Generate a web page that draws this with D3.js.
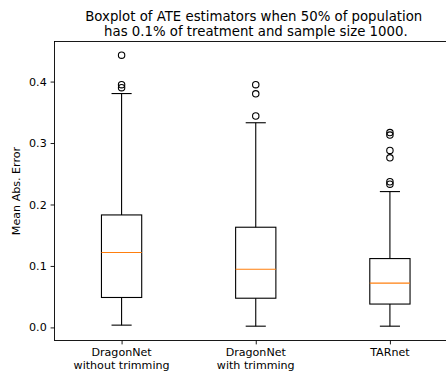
<!DOCTYPE html>
<html><head><meta charset="utf-8">
<script src="https://cdn.jsdelivr.net/npm/d3@7"></script>
<style>body{margin:0;background:#fff;} text{font-family:"DejaVu Sans",sans-serif;fill:#000;}</style>
</head><body><svg id="c" width="446" height="373"></svg>
<script>
const categories = ["DragonNet\nwithout trimming", "DragonNet\nwith trimming", "TARnet"];
const q1 = [0.0487, 0.0475, 0.038];
const medians = [0.122, 0.0946, 0.072];
const q3 = [0.183, 0.163, 0.112];
const whiskerLow = [0.0037, 0.002, 0.002];
const whiskerHigh = [0.3805, 0.333, 0.221];
const outliers = [[0.443, 0.395, 0.390], [0.395, 0.380, 0.344], [0.317, 0.313, 0.288, 0.276, 0.237, 0.233]];
const yTicks = [0.0, 0.1, 0.2, 0.3, 0.4];
const titleLines = ["Boxplot of ATE estimators when 50% of population", " has 0.1% of treatment and sample size 1000."];

const svg = d3.select("#c");
const L = 54.5, R = 457, T = 41.5, B = 340.5;
const fs = 11.1, tfs = 13.3;
const x = d3.scaleLinear().domain([0.5, 3.5]).range([L, R]);
const y = d3.scaleLinear().domain([-0.0213, 0.4652]).range([B, T]);
const bw = 0.3, cw = 0.15;

// axes
const ya = svg.append("g").attr("transform", `translate(${L},0)`)
  .call(d3.axisLeft(y).tickValues(yTicks).tickFormat(d3.format(".1f")).tickSizeOuter(0).tickSize(3.9).tickPadding(3.9));
ya.select(".domain").remove();
ya.selectAll("text").style("font-size", fs + "px").style("font-family", "DejaVu Sans").attr("fill", "#000");
ya.selectAll("line").attr("stroke", "#000").attr("stroke-width", 0.9);

const xa = svg.append("g").attr("transform", `translate(0,${B})`)
  .call(d3.axisBottom(x).tickValues([1, 2, 3]).tickFormat("").tickSizeOuter(0).tickSize(3.9));
xa.select(".domain").remove();
xa.selectAll("line").attr("stroke", "#000").attr("stroke-width", 0.9);

categories.forEach((c, i) => {
  const lines = c.split("\n");
  const t = svg.append("text").attr("x", x(i + 1)).attr("y", B + 15.5).attr("text-anchor", "middle").style("font-size", fs + "px");
  lines.forEach((l, j) => t.append("tspan").attr("x", x(i + 1)).attr("dy", j === 0 ? 0 : 13).text(l));
});

// boxes
const g = svg.append("g");
const sw = 1.1;
categories.forEach((c, i) => {
  const p = i + 1;
  g.append("line").attr("x1", x(p)).attr("x2", x(p)).attr("y1", y(q1[i])).attr("y2", y(whiskerLow[i])).attr("stroke", "#000").attr("stroke-width", sw);
  g.append("line").attr("x1", x(p)).attr("x2", x(p)).attr("y1", y(q3[i])).attr("y2", y(whiskerHigh[i])).attr("stroke", "#000").attr("stroke-width", sw);
  g.append("line").attr("x1", x(p - cw / 2)).attr("x2", x(p + cw / 2)).attr("y1", y(whiskerLow[i])).attr("y2", y(whiskerLow[i])).attr("stroke", "#000").attr("stroke-width", sw);
  g.append("line").attr("x1", x(p - cw / 2)).attr("x2", x(p + cw / 2)).attr("y1", y(whiskerHigh[i])).attr("y2", y(whiskerHigh[i])).attr("stroke", "#000").attr("stroke-width", sw);
  g.append("rect").attr("x", x(p - bw / 2)).attr("width", x(p + bw / 2) - x(p - bw / 2))
    .attr("y", y(q3[i])).attr("height", y(q1[i]) - y(q3[i])).attr("fill", "none").attr("stroke", "#000").attr("stroke-width", sw);
  g.append("line").attr("x1", x(p - bw / 2)).attr("x2", x(p + bw / 2)).attr("y1", y(medians[i])).attr("y2", y(medians[i])).attr("stroke", "#ff7f0e").attr("stroke-width", sw);
  outliers[i].forEach(o => {
    g.append("circle").attr("cx", x(p)).attr("cy", y(o)).attr("r", 3.2).attr("fill", "none").attr("stroke", "#000").attr("stroke-width", sw);
  });
});

// spines
svg.append("rect").attr("x", L).attr("y", T).attr("width", R - L).attr("height", B - T).attr("fill", "none").attr("stroke", "#000").attr("stroke-width", 0.9);

// y label
svg.append("text").attr("transform", `translate(20,${(T + B) / 2}) rotate(-90)`).attr("text-anchor", "middle").style("font-size", fs + "px").text("Mean Abs. Error");

// title
titleLines.forEach((l, j) => {
  svg.append("text").attr("x", (L + R) / 2 - 2).attr("y", 21 + j * 14.5).attr("text-anchor", "middle").attr("xml:space", "preserve").style("white-space", "pre").style("font-size", tfs + "px").text(l);
});
</script></body></html>
